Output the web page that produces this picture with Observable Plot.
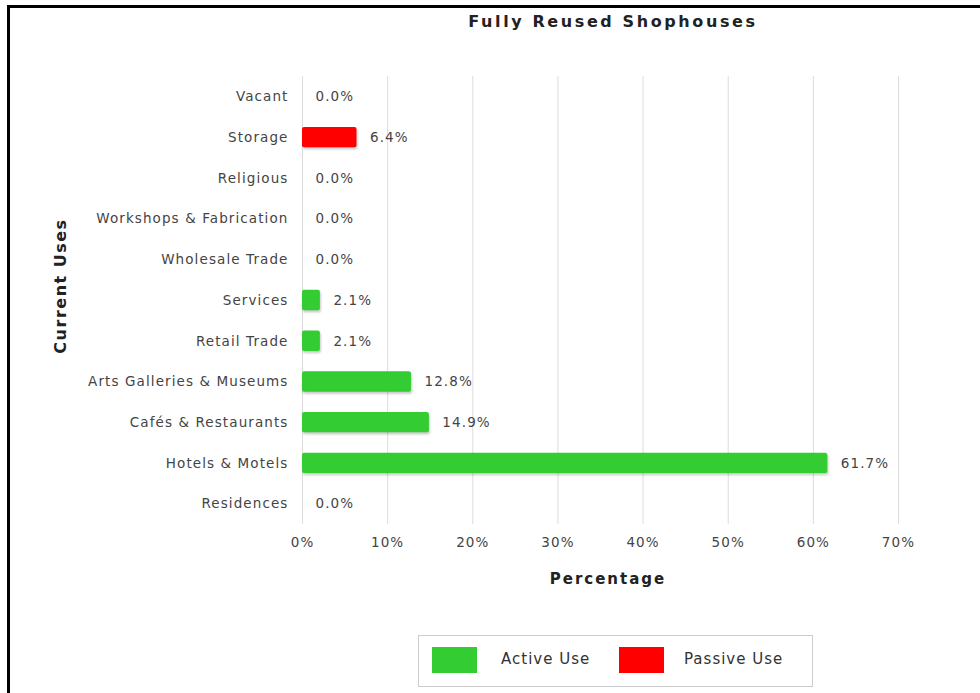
<!DOCTYPE html>
<html>
<head>
<meta charset="utf-8">
<script src="https://cdn.jsdelivr.net/npm/d3@7"></script>
<script src="https://cdn.jsdelivr.net/npm/@observablehq/plot@0.6"></script>
<style>
  body { margin: 0; background: #fff; font-family: "DejaVu Sans", Verdana, sans-serif; }
  #page { position: relative; width: 980px; height: 693px; overflow: hidden; background: #fff; }
  #frame { position: absolute; left: 7px; top: 5px; width: 975px; height: 700px;
           border-left: 3px solid #000; border-top: 3px solid #000; pointer-events: none; }
  #title { position: absolute; top: 12px; left: 363px; width: 500px; text-align: center;
           font-weight: bold; font-size: 16px; letter-spacing: 2.6px; color: #222; }
  #chart { position: absolute; left: 0; top: 0; }
  #chart svg text { letter-spacing: 1.1px; }
  #xlabel { position: absolute; top: 570px; left: 458px; width: 300px; text-align: center;
            font-weight: bold; font-size: 15px; letter-spacing: 2px; color: #222; }
  #ylabel { position: absolute; left: 60px; top: 286px; transform: translate(-50%, -50%) rotate(-90deg);
            font-weight: bold; font-size: 16px; letter-spacing: 1.5px; color: #222; white-space: nowrap; }
  #legend { position: absolute; left: 418px; top: 635px; width: 395px; height: 52px;
            border: 1px solid #ccc; box-sizing: border-box; }
  .swatch { position: absolute; top: 11px; width: 45px; height: 26px; }
  .ltext { position: absolute; top: 14px; font-size: 15px; letter-spacing: 1px; color: #333; white-space: nowrap; }
  #chart rect { filter: drop-shadow(1px 2px 1px rgba(0,0,0,0.22)); }
</style>
</head>
<body>
<div id="page">
  <div id="title">Fully Reused Shophouses</div>
  <div id="chart"></div>
  <div id="xlabel">Percentage</div>
  <div id="ylabel">Current Uses</div>
  <div id="legend"></div>
  <div id="frame"></div>
</div>
<script>
// Current uses of fully reused shophouses, listed top to bottom
const categories = [
  "Vacant", "Storage", "Religious", "Workshops & Fabrication", "Wholesale Trade",
  "Services", "Retail Trade", "Arts Galleries & Museums", "Cafés & Restaurants",
  "Hotels & Motels", "Residences"
];
// Share of shophouses in each use (%)
const shares = [0.0, 6.4, 0.0, 0.0, 0.0, 2.1, 2.1, 12.8, 14.9, 61.7, 0.0];
// Whether each use counts as active or passive
const useKinds = [
  "Passive Use", "Passive Use", "Active Use", "Active Use", "Active Use",
  "Active Use", "Active Use", "Active Use", "Active Use", "Active Use", "Active Use"
];
const kindNames = ["Active Use", "Passive Use"];
const kindColors = ["#33cc33", "#ff0000"];
const xTicks = [0, 10, 20, 30, 40, 50, 60, 70];

const rows = categories.map((use, i) => ({ use, share: shares[i], kind: useKinds[i] }));

const chart = Plot.plot({
  width: 980,
  height: 600,
  marginLeft: 302,
  marginRight: 82,
  marginTop: 76,
  marginBottom: 76,
  style: { fontFamily: "'DejaVu Sans', Verdana, sans-serif", fontSize: "13.5px", color: "#444", background: "transparent" },
  x: { domain: [0, 70] },
  y: { domain: categories, paddingInner: 0.5, paddingOuter: 0.25, round: false },
  color: { domain: kindNames, range: kindColors },
  marks: [
    Plot.gridX(xTicks, { stroke: "#dcdcdc", strokeOpacity: 1 }),
    Plot.axisX({ ticks: xTicks, tickSize: 0, tickPadding: 13, tickFormat: d => d + "%", label: null }),
    Plot.axisY({ tickSize: 0, tickPadding: 14, label: null }),
    Plot.barX(rows, { x: "share", y: "use", fill: "kind", rx: 2 }),
    Plot.text(rows, { x: "share", y: "use", text: d => d.share.toFixed(1) + "%", dx: 13, textAnchor: "start", fill: "#444" })
  ]
});
document.getElementById("chart").appendChild(chart);

// Legend of use kinds
const legend = document.getElementById("legend");
const swatchLeft = [13, 200];
const textLeft = [82, 265];
kindNames.forEach((name, i) => {
  const sw = document.createElement("div");
  sw.className = "swatch";
  sw.style.left = swatchLeft[i] + "px";
  sw.style.background = kindColors[i];
  legend.appendChild(sw);
  const t = document.createElement("div");
  t.className = "ltext";
  t.style.left = textLeft[i] + "px";
  t.textContent = name;
  legend.appendChild(t);
});
</script>
</body>
</html>
